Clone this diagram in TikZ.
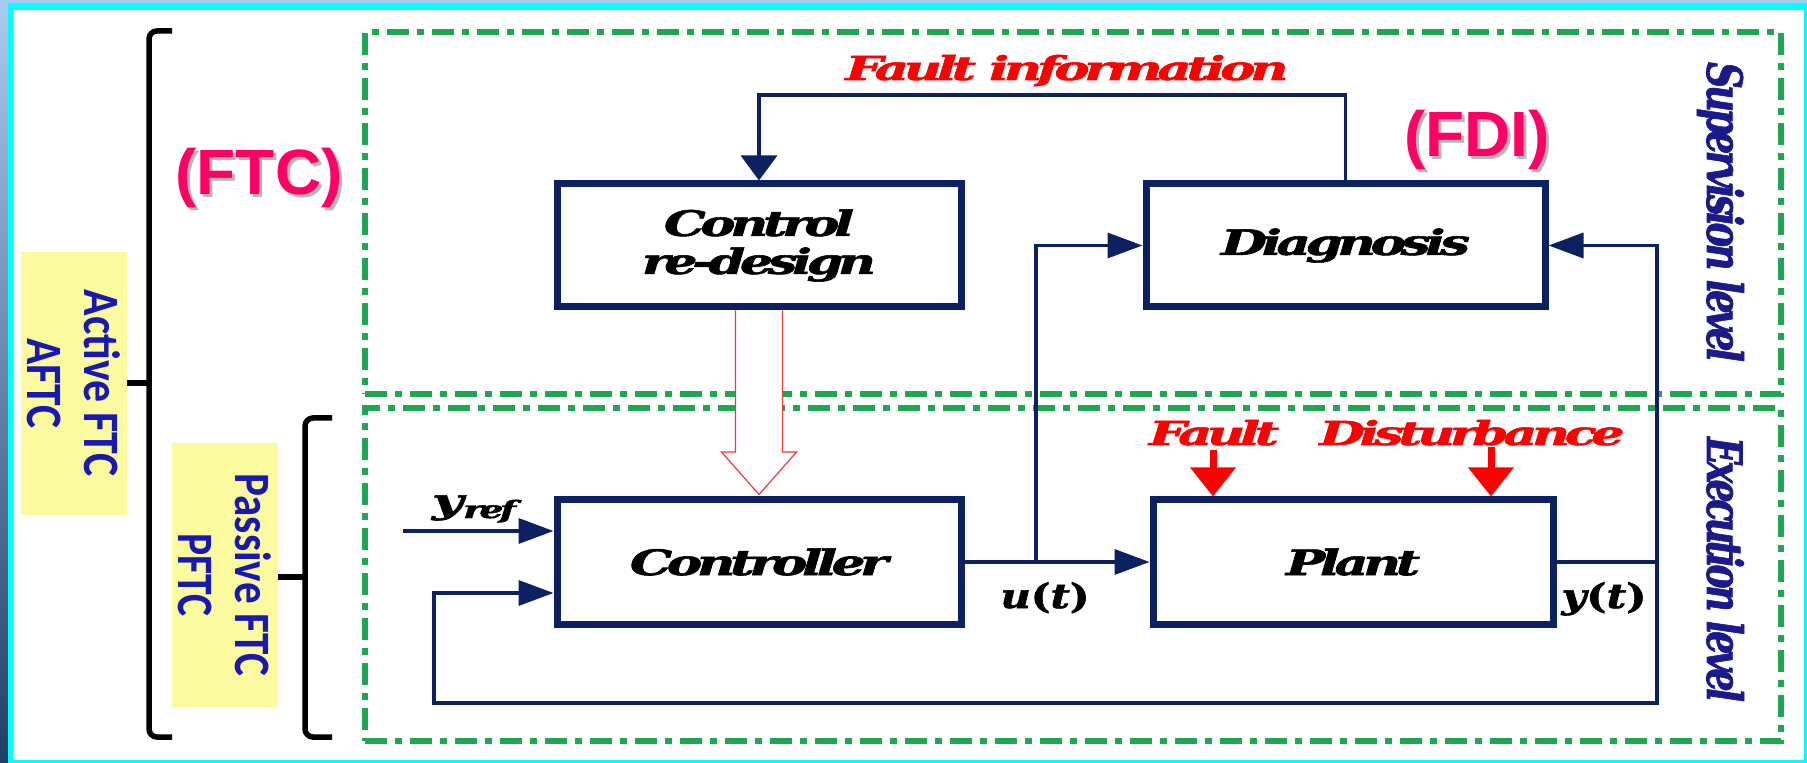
\documentclass[tikz,border=0pt]{standalone}
\usepackage{fontspec}
\setmainfont{DejaVu Serif}
\newfontfamily\gbi{DejaVu Serif Bold Italic}[FakeBold=1.6, LetterSpace=-10]
\newfontfamily\gb{DejaVu Serif Bold}[FakeBold=1.6]
\newfontfamily\arialfont{Liberation Sans}
\newfontfamily\calfont{Carlito}
\usetikzlibrary{arrows.meta,calc}
\definecolor{navy}{HTML}{0B2161}
\definecolor{grn}{HTML}{1EA650}
\definecolor{lblue}{HTML}{1818B4}
\definecolor{dblue}{HTML}{1A1A8C}
\definecolor{pinkr}{HTML}{FF0066}
\definecolor{ylw}{HTML}{FCFA9E}
\definecolor{redf}{HTML}{FF0000}
\definecolor{redl}{HTML}{F03A3A}
\definecolor{cyanb}{HTML}{00FFFF}
\definecolor{bgtop}{HTML}{A9CBF0}
\definecolor{bgbot}{HTML}{203F66}
\definecolor{shd}{HTML}{B8B8B8}
\newcommand{\wfit}[2]{\resizebox{#1}{\height}{#2}}
\newcommand{\shadowtext}[1]{\makebox[0pt][l]{\hspace{1.5pt}\raisebox{-1.5pt}{\color{shd}#1}}#1}
\begin{document}
\begin{tikzpicture}[x=0.5pt,y=-0.5pt,
  blk/.style={draw=navy, line width=3.5pt, fill=white, inner sep=0pt, text=black,
    font=\gbi\fontsize{17.5}{19}\selectfont, align=center},
  conn/.style={draw=navy, line width=1.75pt},
  harr/.style={-{Triangle[length=17.5pt,width=12.5pt]}},
  varr/.style={-{Triangle[length=12.5pt,width=18pt]}},
  rarr/.style={draw=redf, line width=3.5pt, -{Triangle[length=14.5pt,width=22pt]}},
  lvl/.style={draw=grn, line width=2.6pt, dash pattern=on 11pt off 4pt on 3.5pt off 4pt, inner sep=0pt},
  redlab/.style={text=redf, font=\gbi\fontsize{16.5}{18}\selectfont, inner sep=0pt, anchor=base},
  mathlab/.style={text=black, font=\gb\fontsize{17}{19}\selectfont, inner sep=0pt, anchor=base},
  lvllab/.style={text=dblue, font=\gbi\fontsize{16}{19}\selectfont, inner sep=0pt, anchor=base, rotate=-90},
  ybox/.style={fill=ylw, inner sep=0pt, rotate=-90, text=lblue, align=center,
    font=\calfont\bfseries\fontsize{25.5}{28.5}\selectfont},
  brk/.style={draw=black, line width=2.75pt, rounded corners=4pt},
  pink/.style={text=pinkr, inner sep=0pt, anchor=base, font=\arialfont\bfseries\fontsize{32}{36}\selectfont}
]
\useasboundingbox (0,0) rectangle (1807,763);
% frame
\shade[top color=bgtop, bottom color=bgbot] (0,0) rectangle (1807,763);
\fill[cyanb] (8,3) rectangle (1807,763);
\fill[white] (13,10) rectangle (1804,760);

% yellow labels
\node[ybox, minimum width=131.5pt, minimum height=53pt] (aftc) at (74,383.5)
  {\wfit{93.5pt}{Active FTC}\\\wfit{45pt}{AFTC}};
\node[ybox, minimum width=132pt, minimum height=53pt] (pftc) at (225,575)
  {\wfit{101.5pt}{Passive FTC}\\\wfit{41.5pt}{PFTC}};

% brackets
\draw[brk] (172,31) -- (149,31) -- (149,737) -- (172,737);
\draw[brk] (127,383) -- (149,383);
\draw[brk] (332,418) -- (305,418) -- (305,737) -- (332,737);
\draw[brk] (278,577) -- (305,577);

% FTC / FDI
\node[pink] (ftc) at (259,195) {\shadowtext{(FTC)}};
\node[pink] (fdi) at (1477,157) {\shadowtext{(FDI)}};

% level frames
\node[lvl, minimum width=708pt, minimum height=181pt] (sup) at (1073,213) {};
\node[lvl, minimum width=708pt, minimum height=166.5pt] (exe) at (1073,574.5) {};
\node[lvllab] (suplab) at (1707,212) {\resizebox{150pt}{18.5pt}{Supervision level}};
\node[lvllab] (exelab) at (1707,569.5) {\resizebox{132.5pt}{18.5pt}{Execution level}};

% blocks
\node[blk, minimum width=202pt, minimum height=61.5pt] (crd) at (759,245.5)
  {\wfit{95pt}{Control}\\\wfit{117pt}{re-design}};
\node[blk, minimum width=199.5pt, minimum height=61.5pt] (dia) at (1345.5,245.5)
  {\wfit{124.5pt}{Diagnosis}};
\node[blk, minimum width=202pt, minimum height=62pt] (ctl) at (759,562)
  {\wfit{129pt}{Controller}};
\node[blk, minimum width=200pt, minimum height=62pt] (pl) at (1353,562)
  {\wfit{67pt}{Plant}};

% coordinates
\coordinate (uj) at (1036,562);
\coordinate (yj) at (1657,562);
\coordinate (yr) at (403,531);
\coordinate (fs) at (1213,450);
\coordinate (ds) at (1491,447);

% connectors
\draw[conn,varr] (dia.north) -- (dia.north |- 0,95) -| (crd.north);
\draw[conn,harr] (ctl.east) -- (pl.west);
\draw[conn,harr] (uj) |- (dia.west);
\draw[conn] (pl.east) -- (yj);
\draw[conn,harr] (yj) |- (dia.east);
\draw[conn,harr] (yj) |- (434,703) -- (434,593) -- (ctl.west |- 0,593);
\draw[conn,harr] (yr) -- (ctl.west |- yr);

% hollow re-design arrow
\draw[redl, line width=0.6pt, fill=white]
  ($(crd.south)+(-23.5,0)$) -- ($(ctl.north)+(-23.5,-44.5)$) -- ($(ctl.north)+(-37.5,-44.5)$)
  -- ($(ctl.north)+(0,-2)$) -- ($(ctl.north)+(37.5,-44.5)$) -- ($(ctl.north)+(23.5,-44.5)$)
  -- ($(crd.south)+(23.5,0)$);

% fault / disturbance arrows
\draw[rarr] (fs) -- (fs |- pl.north);
\draw[rarr] (ds) -- (ds |- pl.north);

% labels
\node[redlab] (filab) at (1067,80) {\wfit{221.5pt}{Fault information}};
\node[redlab] (flab) at (1214,445) {\wfit{65pt}{Fault}};
\node[redlab] (dlab) at (1472,445) {\wfit{152.5pt}{Disturbance}};
\node[mathlab] (ulab) at (1045,608) {\wfit{44.5pt}{{\gbi u}({\gbi t})}};
\node[mathlab] (ylab) at (1604,608) {\wfit{42.5pt}{{\gbi y}({\gbi t})}};
\node[mathlab] (yref) at (474,513)
  {\wfit{42pt}{{\gbi y}\raisebox{-2.5pt}{\gbi\fontsize{12}{13}\selectfont ref}}};
\end{tikzpicture}
\end{document}
